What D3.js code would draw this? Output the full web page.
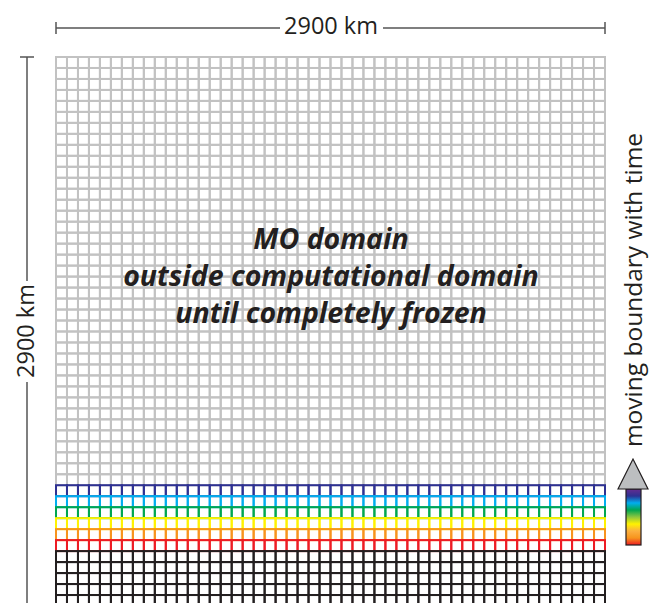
<!DOCTYPE html>
<html><head><meta charset="utf-8">
<script src="https://cdn.jsdelivr.net/npm/d3@7"></script>
<style>body{margin:0;background:#fff;} svg{display:block;}</style>
</head><body>
<svg id="c" width="649" height="603"></svg>
<script>
// data
const domainKm = 2900;
const nCells = 50;
const layerNames = ["MO domain","layer 6","layer 5","layer 4","layer 3","layer 2","layer 1","frozen"];
const layerRows = [39,1,1,1,1,1,1,5];
const layerColors = ["#c2c2c2","#2e3192","#00aeef","#00a651","#fff200","#f7941d","#ed1c24","#231f20"];
const labelLines = ["MO domain","outside computational domain","until completely frozen"];
const sideLabel = "moving boundary with time";
const sizeLabel = "2900 km";
const arrowStops = ["#662d91","#2e3192","#00aeef","#00a651","#8dc63f","#fff200","#fbb040","#f7941d","#ed1c24"];

const svg = d3.select("#c");
const x = d3.scaleLinear().domain([0, domainKm]).range([56, 605]);
const y = d3.scaleLinear().domain([0, domainKm]).range([57, 606]);
const cellKm = domainKm / nCells;

// build rows
const rows = [];
let r = 0;
layerRows.forEach((n, i) => { for (let k = 0; k < n; k++) rows.push({row: r++, color: layerColors[i]}); });
const cells = [];
rows.forEach(rw => { for (let c = 0; c < nCells; c++) cells.push({row: rw.row, col: c, color: rw.color}); });

svg.append("g").selectAll("rect").data(cells).join("rect")
  .attr("x", d => x(d.col * cellKm))
  .attr("y", d => y(d.row * cellKm))
  .attr("width", x(cellKm) - x(0))
  .attr("height", y(cellKm) - y(0))
  .attr("fill", "none")
  .attr("stroke", d => d.color)
  .attr("stroke-width", 2);

// top dimension line
const lineCol = "#555";
const topY = 28;
const txtFont = "'Open Sans', sans-serif";
svg.append("line").attr("x1", x(0)).attr("x2", 280).attr("y1", topY).attr("y2", topY).attr("stroke", lineCol).attr("stroke-width", 1.5);
svg.append("line").attr("x1", 383).attr("x2", x(domainKm)).attr("y1", topY).attr("y2", topY).attr("stroke", lineCol).attr("stroke-width", 1.5);
[x(0), x(domainKm)].forEach(px => svg.append("line").attr("x1", px).attr("x2", px).attr("y1", topY-6).attr("y2", topY+6).attr("stroke", lineCol).attr("stroke-width", 1.5));
svg.append("text").attr("x", 331).attr("y", 34).attr("text-anchor","middle")
  .attr("font-family", txtFont).attr("font-size", 23.5).attr("fill", "#231f20").text(sizeLabel);

// left dimension line
const leftX = 27;
svg.append("line").attr("x1", leftX).attr("x2", leftX).attr("y1", y(0)).attr("y2", 281).attr("stroke", lineCol).attr("stroke-width", 1.5);
svg.append("line").attr("x1", leftX).attr("x2", leftX).attr("y1", 382).attr("y2", 603).attr("stroke", lineCol).attr("stroke-width", 1.5);
svg.append("line").attr("x1", leftX-7).attr("x2", leftX+7).attr("y1", y(0)).attr("y2", y(0)).attr("stroke", lineCol).attr("stroke-width", 1.5);
svg.append("text").attr("transform", `translate(${leftX+7},331) rotate(-90)`).attr("text-anchor","middle")
  .attr("font-family", txtFont).attr("font-size", 23.5).attr("fill", "#231f20").text(sizeLabel);

// central label
svg.append("g").selectAll("text").data(labelLines).join("text")
  .attr("x", 331).attr("y", (d,i) => 249 + i*37)
  .attr("text-anchor","middle")
  .attr("font-family", txtFont).attr("font-weight", "bold").attr("font-style","italic")
  .attr("font-size", 28.5).attr("fill", "#231f20").text(d => d);

// side label
svg.append("text").attr("transform", `translate(642,290) rotate(-90)`).attr("text-anchor","middle")
  .attr("font-family", txtFont).attr("font-size", 24.5).attr("fill", "#231f20").text(sideLabel);

// arrow
const defs = svg.append("defs");
const grad = defs.append("linearGradient").attr("id","ag").attr("x1",0).attr("x2",0).attr("y1",0).attr("y2",1);
grad.selectAll("stop").data(arrowStops).join("stop")
  .attr("offset", (d,i) => i/(arrowStops.length-1)).attr("stop-color", d => d);
svg.append("rect").attr("x", 626).attr("y", 489).attr("width", 15).attr("height", 56)
  .attr("fill","url(#ag)").attr("stroke","#231f20").attr("stroke-width",1.2);
svg.append("path").attr("d","M618,489 L633,459 L648,489 Z").attr("fill","#bcbec0").attr("stroke","#231f20").attr("stroke-width",1.2);
</script>
</body></html>
